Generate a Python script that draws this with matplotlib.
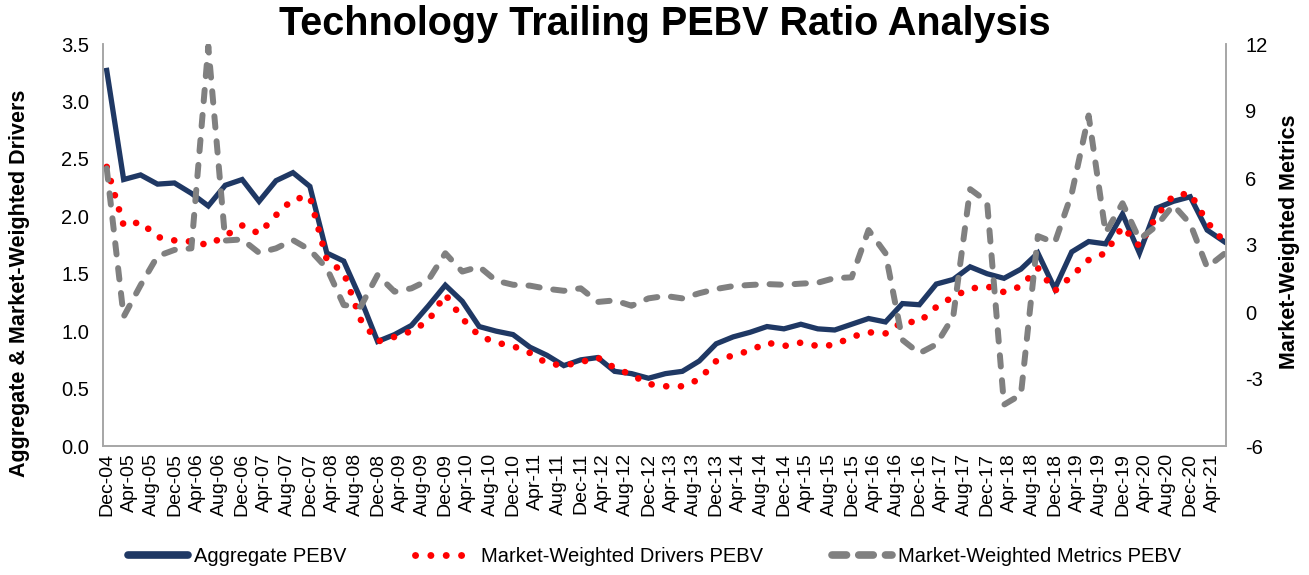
import matplotlib
matplotlib.use("Agg")
import matplotlib.pyplot as plt
from matplotlib.lines import Line2D

plt.rcParams['font.family'] = ['Liberation Sans', 'DejaVu Sans']

# Quarterly observations, Dec-04 through Jun-21 (months since Dec-04)
months = list(range(0, 199, 3))

aggregate_pebv = [
    3.27, 2.32, 2.36, 2.28, 2.29, 2.20, 2.09, 2.27, 2.32, 2.13,
    2.31, 2.38, 2.26, 1.68, 1.61, 1.28, 0.91, 0.97, 1.05, 1.22,
    1.40, 1.26, 1.04, 1.00, 0.97, 0.86, 0.79, 0.70, 0.75, 0.77,
    0.65, 0.63, 0.59, 0.63, 0.65, 0.74, 0.89, 0.95, 0.99, 1.04,
    1.02, 1.06, 1.02, 1.01, 1.06, 1.11, 1.08, 1.24, 1.23, 1.41,
    1.45, 1.56, 1.50, 1.46, 1.54, 1.68, 1.37, 1.69, 1.78, 1.76,
    2.02, 1.68, 2.07, 2.13, 2.17, 1.88, 1.78,
]

drivers_pebv = [
    2.43, 1.92, 1.95, 1.82, 1.79, 1.78, 1.75, 1.83, 1.92, 1.85,
    2.01, 2.15, 2.17, 1.62, 1.51, 1.10, 0.91, 0.95, 1.00, 1.09,
    1.32, 1.11, 0.96, 0.90, 0.87, 0.81, 0.72, 0.70, 0.73, 0.77,
    0.68, 0.62, 0.54, 0.52, 0.52, 0.58, 0.74, 0.79, 0.83, 0.90,
    0.87, 0.90, 0.87, 0.88, 0.95, 0.99, 0.98, 1.08, 1.08, 1.21,
    1.30, 1.37, 1.39, 1.34, 1.39, 1.55, 1.35, 1.48, 1.62, 1.68,
    1.91, 1.74, 2.00, 2.18, 2.20, 1.95, 1.78,
]

metrics_pebv = [
    6.43, -0.21, 1.20, 2.50, 2.78, 2.85, 11.90, 3.20, 3.25, 2.65,
    2.85, 3.22, 2.78, 1.96, 0.31, 0.24, 1.66, 0.91, 1.06, 1.43,
    2.63, 1.81, 2.03, 1.40, 1.22, 1.18, 1.04, 0.95, 1.06, 0.45,
    0.52, 0.28, 0.61, 0.72, 0.61, 0.84, 1.03, 1.16, 1.21, 1.25,
    1.22, 1.27, 1.31, 1.52, 1.55, 3.67, 2.63, -1.25, -1.85, -1.45,
    -0.21, 5.50, 4.94, -4.15, -3.70, 3.40, 3.10, 5.30, 8.80, 3.55,
    4.87, 3.25, 3.85, 4.79, 3.95, 2.00, 2.60,
]

tick_months = list(range(0, 197, 4))
tick_labels = [
    "Dec-04",
    "Apr-05", "Aug-05", "Dec-05", "Apr-06", "Aug-06", "Dec-06",
    "Apr-07", "Aug-07", "Dec-07", "Apr-08", "Aug-08", "Dec-08",
    "Apr-09", "Aug-09", "Dec-09", "Apr-10", "Aug-10", "Dec-10",
    "Apr-11", "Aug-11", "Dec-11", "Apr-12", "Aug-12", "Dec-12",
    "Apr-13", "Aug-13", "Dec-13", "Apr-14", "Aug-14", "Dec-14",
    "Apr-15", "Aug-15", "Dec-15", "Apr-16", "Aug-16", "Dec-16",
    "Apr-17", "Aug-17", "Dec-17", "Apr-18", "Aug-18", "Dec-18",
    "Apr-19", "Aug-19", "Dec-19", "Apr-20", "Aug-20", "Dec-20",
    "Apr-21",
]

left_ticks = [0.0, 0.5, 1.0, 1.5, 2.0, 2.5, 3.0, 3.5]
right_ticks = [-6, -3, 0, 3, 6, 9, 12]

NAVY = "#1F3864"
RED = "#FF0000"
GRAY = "#808080"
SPINE = "#A6A6A6"

fig = plt.figure(figsize=(13.09, 5.75), dpi=100)
ax = fig.add_axes([103 / 1309, 1 - 446 / 575, (1226 - 103) / 1309, (446 - 44) / 575])
ax2 = ax.twinx()

ax.plot(months, aggregate_pebv, color=NAVY, lw=3.8, solid_joinstyle="miter",
        label="Aggregate PEBV", zorder=2)
ax.plot(months, drivers_pebv, color=RED, lw=4.8, linestyle=(0, (0.01, 2.2)),
        dash_capstyle="round", label="Market-Weighted Drivers PEBV", zorder=3)
ax2.plot(months, metrics_pebv, color=GRAY, lw=4.3, linestyle=(0, (1.9, 2.3)),
         dash_capstyle="round", label="Market-Weighted Metrics PEBV")

ax.set_xlim(-0.66, 198.34)
ax.set_ylim(0, 3.5)
ax2.set_ylim(-6, 12)

ax.set_yticks(left_ticks)
ax.set_yticklabels([f"{v:.1f}" for v in left_ticks])
ax2.set_yticks(right_ticks)
ax2.set_yticklabels([str(v) for v in right_ticks])
ax.set_xticks(tick_months)
ax.set_xticklabels(tick_labels, rotation=90)

for a in (ax, ax2):
    a.spines["top"].set_visible(False)
    for s in ("left", "right", "bottom"):
        a.spines[s].set_color(SPINE)
        a.spines[s].set_linewidth(1.2)
    a.tick_params(length=0, labelsize=14.5, colors="#000000")
ax.tick_params(axis="x", labelsize=14, pad=5)
ax.tick_params(axis="y", pad=10)
ax2.tick_params(axis="y", pad=14)

fig.text(0.508, 1 - 24 / 575, "Technology Trailing PEBV Ratio Analysis",
         ha="center", va="center", fontsize=28.5, fontweight="bold")
fig.text(20 / 1309, 1 - 283 / 575, "Aggregate & Market-Weighted Drivers",
         rotation=90, ha="center", va="center", fontsize=15.5, fontweight="bold")
fig.text(1290 / 1309, 1 - 242 / 575, "Market-Weighted Metrics",
         rotation=90, ha="center", va="center", fontsize=15.5, fontweight="bold")

handles = [
    Line2D([], [], color=NAVY, lw=5.5, solid_capstyle="round"),
    Line2D([], [], color=RED, lw=5, linestyle=(0, (0.01, 2.2)), dash_capstyle="round"),
    Line2D([], [], color=GRAY, lw=5.5, linestyle=(0, (1.9, 1.6)), dash_capstyle="round"),
]
labels = ["Aggregate PEBV", "Market-Weighted Drivers PEBV", "Market-Weighted Metrics PEBV"]
fig.legend(handles, labels, loc="center", bbox_to_anchor=(0.5, 1 - 557 / 575),
           ncol=3, frameon=False, fontsize=14.5, handlelength=3.0,
           handletextpad=0.3, columnspacing=3.4)

fig.savefig("out.png", dpi=100)
